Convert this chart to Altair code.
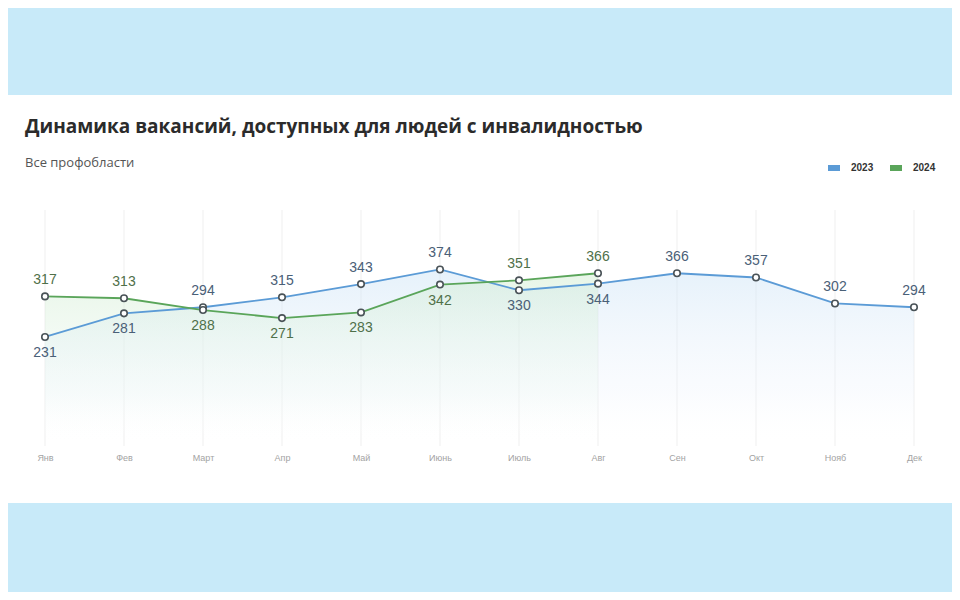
import altair as alt
import pandas as pd

months = ["Янв", "Фев", "Март", "Апр", "Май", "Июнь", "Июль", "Авг", "Сен", "Окт", "Нояб", "Дек"]
values_2023 = [231, 281, 294, 315, 343, 374, 330, 344, 366, 357, 302, 294]
values_2024 = [317, 313, 288, 271, 283, 342, 351, 366]
years = ["2023", "2024"]

rows = []
for i, m in enumerate(months):
    v23 = values_2023[i]
    v24 = values_2024[i] if i < len(values_2024) else None
    rows.append(dict(month=m, year="2023", value=v23,
                     pos="above" if (v24 is None or v23 >= v24) else "below"))
    if v24 is not None:
        rows.append(dict(month=m, year="2024", value=v24,
                         pos="above" if v24 > v23 else "below"))
df = pd.DataFrame(rows)
month_df = pd.DataFrame({"month": months})

BLUE = "#5b9bd6"
GREEN = "#5aa55a"

xscale = alt.Scale(type="point", padding=0)
xaxis = alt.Axis(title=None, labelAngle=0, domain=False, ticks=False,
                 grid=False, zindex=1,
                 labelColor="#a3a3a3", labelFontSize=9, labelPadding=7,
                 labelFont="Liberation Sans")
x = alt.X("month:N", sort=months, scale=xscale, axis=xaxis)
y = alt.Y("value:Q", scale=alt.Scale(domain=[0, 500]), axis=None)

base = alt.Chart(df)

panel = alt.Chart(pd.DataFrame({"k": [0]})).mark_rect(color="white", clip=False).encode(
    x=alt.value(-37), x2=alt.value(907), y=alt.value(-115), y2=alt.value(293)
)

grid = alt.Chart(month_df).mark_rule(color="#efefef", strokeWidth=1).encode(
    x=x, y=alt.value(0), y2=alt.value(236)
)

area23 = base.transform_filter(alt.datum.year == "2023").mark_area(
    color=alt.Gradient(gradient="linear",
                       stops=[alt.GradientStop(color="rgba(205,228,246,0.5)", offset=0),
                              alt.GradientStop(color="rgba(235,242,252,0.25)", offset=0.7),
                              alt.GradientStop(color="rgba(255,255,255,0)", offset=1)],
                       x1=0, x2=0, y1=0, y2=1)
).encode(x=x, y=y)

area24 = base.transform_filter(alt.datum.year == "2024").mark_area(
    color=alt.Gradient(gradient="linear",
                       stops=[alt.GradientStop(color="rgba(208,236,208,0.5)", offset=0),
                              alt.GradientStop(color="rgba(235,248,240,0.25)", offset=0.7),
                              alt.GradientStop(color="rgba(255,255,255,0)", offset=1)],
                       x1=0, x2=0, y1=0, y2=1)
).encode(x=x, y=y)

lines = base.mark_line(strokeWidth=1.8).encode(
    x=x, y=y,
    color=alt.Color("year:N", scale=alt.Scale(domain=years, range=[BLUE, GREEN]),
                    legend=alt.Legend(title=None, orient="none", legendX=780, legendY=-51,
                                      direction="horizontal", symbolType="M-1,0H1",
                                      symbolSize=144, symbolStrokeWidth=6,
                                      labelFont="Liberation Sans", labelFontSize=10,
                                      labelFontWeight="bold", labelColor="#333333",
                                      columnPadding=4, labelOffset=8))
)

points = base.mark_point(filled=True, fill="white", stroke="#4a5358",
                         strokeWidth=1.6, size=42, opacity=1).encode(x=x, y=y)

label_color = alt.condition(alt.datum.year == "2023", alt.value("#4a6077"), alt.value("#4f7049"))

labels_above = base.transform_filter(alt.datum.pos == "above").mark_text(
    dy=-16, font="Liberation Sans", fontSize=14
).encode(x=x, y=y, text="value:Q", color=label_color)

labels_below = base.transform_filter(alt.datum.pos == "below").mark_text(
    dy=16, font="Liberation Sans", fontSize=14
).encode(x=x, y=y, text="value:Q", color=label_color)

chart = alt.layer(panel, grid, area23, area24, lines, points, labels_above, labels_below).properties(
    width=869, height=236,
    autosize=alt.AutoSizeParams(type="none"),
    padding={"left": 37, "top": 202, "right": 38, "bottom": 146},
    title=alt.TitleParams(
        text="Динамика вакансий, доступных для людей с инвалидностью",
        subtitle="Все профобласти",
        anchor="start", frame="group", dx=-20, dy=107, offset=32,
        font="Open Sans", fontSize=19, fontWeight="bold", color="#2b2b2b",
        subtitleFont="Open Sans", subtitleFontSize=13, subtitleColor="#555555",
        subtitlePadding=20,
    ),
).configure(background="#c8eaf9").configure_view(strokeWidth=0)

chart.save("out.html", embed_options={"renderer": "svg", "actions": False})
